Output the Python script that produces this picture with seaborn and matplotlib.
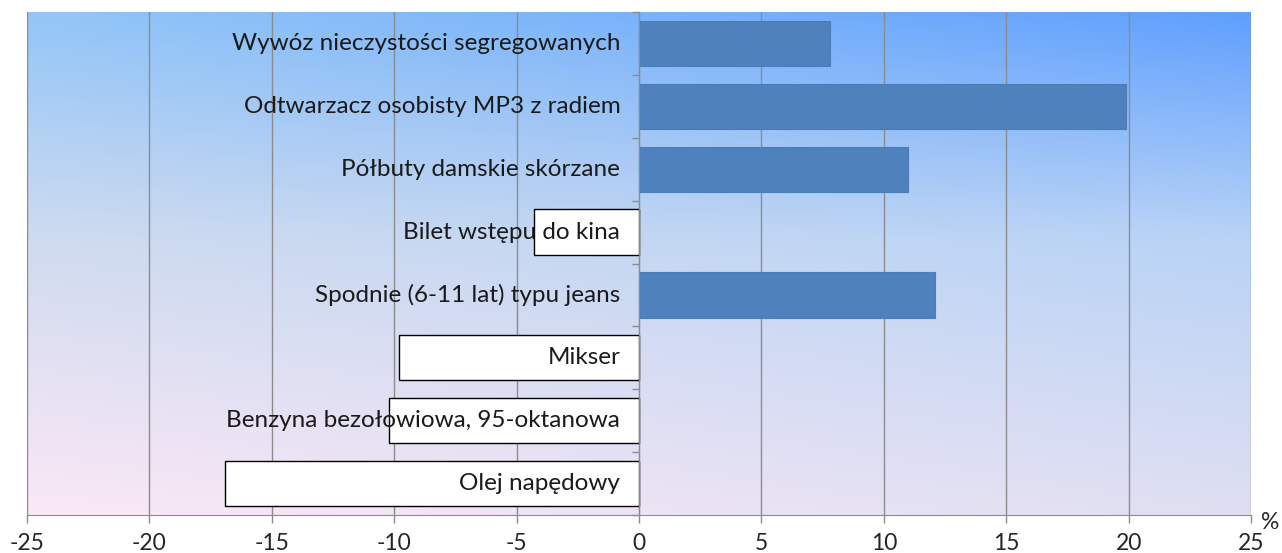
import numpy as np
import pandas as pd
import matplotlib.pyplot as plt
import matplotlib.colors as mcolors
import seaborn as sns

categories = ['Wywóz nieczystości segregowanych',
              'Odtwarzacz osobisty MP3 z radiem',
              'Półbuty damskie skórzane',
              'Bilet wstępu do kina',
              'Spodnie (6-11 lat) typu jeans',
              'Mikser',
              'Benzyna bezołowiowa, 95-oktanowa',
              'Olej napędowy']
values = [7.8, 19.9, 11.0, -4.3, 12.1, -9.8, -10.2, -16.9]
xticks = [-25, -20, -15, -10, -5, 0, 5, 10, 15, 20, 25]

df = pd.DataFrame({'cat': categories, 'val': values})
df['sign'] = np.where(df['val'] >= 0, 'pos', 'neg')

sns.set_style('white')
plt.rcParams['font.family'] = ['Lato', 'DejaVu Sans']

fig = plt.figure(figsize=(12.82, 5.53), dpi=100)
ax = fig.add_axes([27 / 1282, 38 / 553, 1224 / 1282, 503 / 553])

# background gradient of the plot area
h, w = 200, 300
yy, xx = np.mgrid[0:1:h * 1j, 0:1:w * 1j]
tl = np.array(mcolors.to_rgb('#93c6f7'))
tr = np.array(mcolors.to_rgb('#5f9ffe'))
ml = np.array(mcolors.to_rgb('#cfdbef'))
mr = np.array(mcolors.to_rgb('#b8d3f6'))
bl = np.array(mcolors.to_rgb('#fbe8f6'))
br = np.array(mcolors.to_rgb('#dfdff2'))
img = np.zeros((h, w, 3))
for c in range(3):
    top = tl[c] + (tr[c] - tl[c]) * xx[0]
    mid = ml[c] + (mr[c] - ml[c]) * xx[0]
    bot = bl[c] + (br[c] - bl[c]) * xx[0]
    t = yy[:, :1]
    img[:, :, c] = np.where(t < 0.45, top + (mid - top) * (t / 0.45),
                            mid + (bot - mid) * ((t - 0.45) / 0.55))
ax.imshow(img, extent=[0, 1, 0, 1], transform=ax.transAxes, aspect='auto',
          zorder=0, interpolation='bilinear')

sns.barplot(data=df, x='val', y='cat', hue='sign', dodge=False, saturation=1,
            palette={'pos': '#4f81bd', 'neg': 'white'}, width=0.72,
            legend=False, ax=ax, zorder=3)
for p in ax.patches:
    if p.get_width() < 0:
        p.set_edgecolor('black')
        p.set_linewidth(1.0)
    else:
        p.set_edgecolor('#4a7ebb')
        p.set_linewidth(0.8)

for i, name in enumerate(categories):
    ax.annotate(name, xy=(0, i), xytext=(-13.5, 0), textcoords='offset points',
                ha='right', va='center', fontsize=17.5, color='#1a1a1a', zorder=5)

ax.set_xlim(-25, 25)
ax.set_ylim(7.5, -0.5)
ax.set_xticks(xticks)
ax.set_xticklabels([str(v) for v in xticks], fontsize=16.5)
for x in xticks:
    ax.axvline(x, color='#8c8c8c', lw=1.0, zorder=1)

ax.set_yticks(np.arange(-0.5, 8, 1.0))
ax.set_yticklabels([])
ax.spines['left'].set_position(('data', 0))
ax.spines['left'].set_color('#8c8c8c')
ax.spines['left'].set_zorder(4)
ax.spines['bottom'].set_color('#8c8c8c')
ax.spines['right'].set_visible(False)
ax.spines['top'].set_visible(False)
ax.tick_params(axis='y', left=True, direction='out', length=5, color='#8c8c8c', width=1)
ax.tick_params(axis='x', bottom=True, direction='out', length=6, color='#8c8c8c', width=1, pad=7)
ax.set_xlabel('')
ax.set_ylabel('')
ax.text(1.008, -0.014, '%', transform=ax.transAxes, fontsize=16.5, ha='left', va='center')

fig.savefig('out.png', dpi=100)
